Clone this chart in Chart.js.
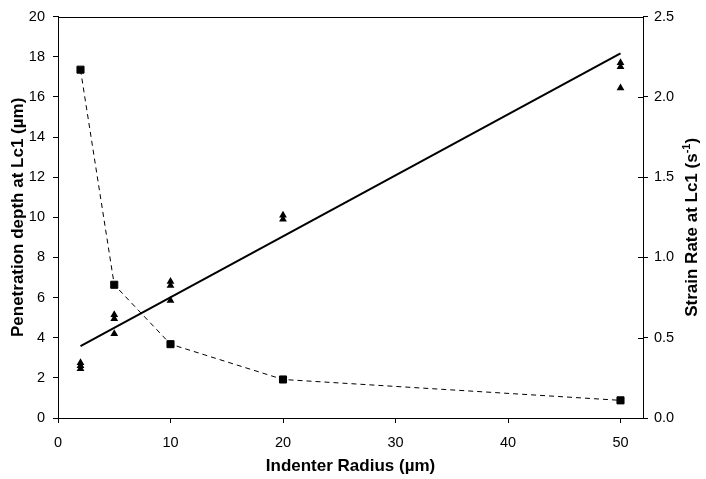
<!DOCTYPE html>
<html>
<head>
<meta charset="utf-8">
<script src="https://cdn.jsdelivr.net/npm/chart.js@4/dist/chart.umd.min.js"></script>
<style>
	html, body { margin: 0; padding: 0; background: #fff; }
	#chart { display: block; }
</style>
</head>
<body>
<canvas id="chart" width="706" height="479"></canvas>
<script>
//indenter radius för varje mätpunkt (trianglar)
var depth_x = [2, 2, 2, 5, 5, 5, 10, 10, 10, 20, 20, 50, 50, 50];
var depth_y = [2.75, 2.6, 2.45, 5.15, 4.95, 4.2, 6.8, 6.6, 5.85, 10.1, 9.9, 17.7, 17.5, 16.45];

//strain rate (fyrkanter, höger axel)
var rate_x = [2, 5, 10, 20, 50];
var rate_y = [2.17, 0.83, 0.46, 0.24, 0.11];

//trendlinje, ändpunkter
var fit_x = [2, 50];
var fit_y = [3.58, 18.17];

var x_ticks = [0, 10, 20, 30, 40, 50];

var font_family = 'Liberation Sans, Arial, sans-serif';

function pts(xs, ys)
{
	return xs.map(function(x, i){ return { x: x, y: ys[i] }; });
}

/**
 * Ram runt plottytan, inre del av tickarna på höger axel
 * och höger axeltitel (läses nerifrån och upp, med upphöjt -1)
 */
var frame_plugin = {
	id: 'frame',
	afterDraw: function(chart)
	{
		var ctx = chart.ctx;
		var a = chart.chartArea;
		ctx.save();
		ctx.strokeStyle = '#000';
		ctx.lineWidth = 1;
		ctx.strokeRect(Math.round(a.left) + 0.5, Math.round(a.top) + 0.5,
			Math.round(a.right - a.left), Math.round(a.bottom - a.top));
		var y2 = chart.scales.y2;
		ctx.beginPath();
		y2.ticks.forEach(function(t){
			var py = Math.round(y2.getPixelForValue(t.value)) + 0.5;
			ctx.moveTo(Math.round(a.right) - 5, py);
			ctx.lineTo(Math.round(a.right), py);
		});
		ctx.stroke();

		//höger titel
		var main = 'Strain Rate at Lc1 (s';
		var sup = '-1';
		var end = ')';
		var f_main = 'bold 17px ' + font_family;
		var f_sup = 'bold 11px ' + font_family;
		ctx.font = f_main;
		var w1 = ctx.measureText(main).width;
		var w3 = ctx.measureText(end).width;
		ctx.font = f_sup;
		var w2 = ctx.measureText(sup).width;
		var total = w1 + w2 + w3;
		ctx.translate(697, (a.top + a.bottom) / 2 + 10);
		ctx.rotate(-Math.PI / 2);
		ctx.fillStyle = '#000';
		ctx.textBaseline = 'alphabetic';
		ctx.textAlign = 'left';
		var x0 = -total / 2;
		ctx.font = f_main;
		ctx.fillText(main, x0, 0);
		ctx.font = f_sup;
		ctx.fillText(sup, x0 + w1, -7);
		ctx.font = f_main;
		ctx.fillText(end, x0 + w1 + w2, 0);
		ctx.restore();
	}
};

var font_tick = { family: font_family, size: 14.5 };
var font_title = { family: font_family, size: 17, weight: 'bold' };

var params = {
	type: 'scatter',
	data: {
		datasets: [
			{
				label: 'depth',
				data: pts(depth_x, depth_y),
				yAxisID: 'y',
				pointStyle: 'triangle',
				pointRadius: 4.5,
				backgroundColor: '#000',
				borderColor: '#000',
				borderWidth: 0,
				showLine: false
			},
			{
				label: 'fit',
				data: pts(fit_x, fit_y),
				yAxisID: 'y',
				showLine: true,
				pointRadius: 0,
				borderColor: '#000',
				borderWidth: 2
			},
			{
				label: 'rate',
				data: pts(rate_x, rate_y),
				yAxisID: 'y2',
				showLine: true,
				pointStyle: 'rect',
				pointRadius: 5,
				backgroundColor: '#000',
				borderColor: '#000',
				borderWidth: 1,
				borderDash: [5, 4]
			}
		]
	},
	options: {
		responsive: false,
		animation: false,
		layout: { padding: { top: 16, left: 0, right: 0, bottom: 0 } },
		plugins: {
			legend: { display: false },
			tooltip: { enabled: false }
		},
		scales: {
			x: {
				type: 'linear',
				min: 0,
				max: 52,
				afterBuildTicks: function(scale){
					scale.ticks = x_ticks.map(function(v){ return { value: v }; });
				},
				afterFit: function(scale){ scale.height = 61; },
				border: { color: '#000', width: 1 },
				grid: { drawOnChartArea: false, tickLength: 5, color: '#000' },
				ticks: { color: '#000', font: font_tick, padding: 11 },
				title: { display: true, text: 'Indenter Radius (µm)', color: '#000', font: font_title, padding: { top: 0, bottom: 2 } }
			},
			y: {
				position: 'left',
				min: 0,
				max: 20,
				afterFit: function(scale){ scale.width = 58; },
				border: { color: '#000', width: 1 },
				grid: { drawOnChartArea: false, tickLength: 5, color: '#000' },
				ticks: { stepSize: 2, color: '#000', font: font_tick, padding: 8 },
				title: { display: true, text: 'Penetration depth at Lc1 (µm)', color: '#000', font: font_title, padding: { top: 8, bottom: 0 } }
			},
			y2: {
				position: 'right',
				min: 0,
				max: 2.5,
				afterFit: function(scale){ scale.width = 63; },
				border: { color: '#000', width: 1 },
				grid: { drawOnChartArea: false, tickLength: 5, color: '#000' },
				ticks: {
					stepSize: 0.5, color: '#000', font: font_tick, padding: 6,
					callback: function(v){ return v.toFixed(1); }
				},
				title: { display: false }
			}
		}
	},
	plugins: [frame_plugin]
};
new Chart(document.getElementById('chart'), params);
</script>
</body>
</html>
